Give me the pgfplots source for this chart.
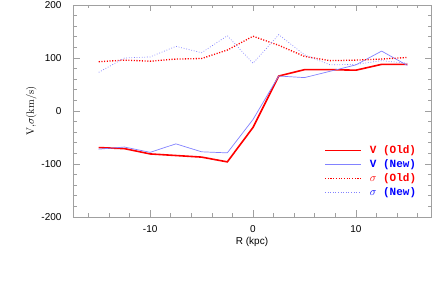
\documentclass[border=0pt]{standalone}
\usepackage{pgfplots}
\pgfplotsset{compat=1.18}
\usepackage{fontspec}
\setsansfont{Liberation Sans}
\newfontfamily\legfont{Liberation Mono}
\definecolor{vnew}{RGB}{130,130,255}
\definecolor{axgray}{RGB}{160,160,160}
\begin{document}
\begin{tikzpicture}
\begin{axis}[
  scale only axis,
  width=358pt, height=212pt,
  xmin=-17.5, xmax=17.3,
  ymin=-200, ymax=200,
  axis line style={axgray, line width=0.9pt},
  every tick/.style={axgray, line width=0.6pt},
  tick align=inside,
  major tick length=6.5pt,
  minor tick length=3.5pt,
  xtick={-10,0,10},
  xticklabels={-10,0,10},
  minor xtick={-16,-14,-12,-8,-6,-4,-2,2,4,6,8,12,14,16},
  ytick={-200,-100,0,100,200},
  yticklabels={-200,-100,0,100,200},
  minor ytick={-180,-160,-140,-120,-80,-60,-40,-20,20,40,60,80,120,140,160,180},
  tick label style={font=\sffamily\fontsize{10}{12}\selectfont},
  yticklabel style={xshift=-8pt},
  xticklabel style={yshift=-5pt},
  xlabel={\sffamily\fontsize{10}{12}\selectfont R (kpc)},
  xlabel style={yshift=2pt},
  ylabel={\fontsize{10.5}{12}\selectfont V,$\sigma$(km/s)},
  ylabel style={yshift=-2pt},
  legend style={draw=none, fill=none, at={(0.693,0.355)}, anchor=north west,
    font=\legfont\bfseries\fontsize{11}{15}\selectfont, row sep=0.4pt,
    /tikz/every odd column/.append style={column sep=6pt}},
  legend cell align=left,
  legend image code/.code={\draw[#1] (0pt,0pt) -- (36pt,0pt);},
]
\addplot[red, line width=1.6pt] coordinates {
(-15,-69) (-12.5,-71) (-10,-81) (-7.5,-84) (-5,-87) (-2.5,-96) (0,-31)
(2.5,66) (5,78) (7.5,78) (10,77) (12.5,88) (15,88)};
\addlegendentry{\textcolor{red}{V (Old)}}
\addplot[vnew, line width=0.7pt] coordinates {
(-15,-72) (-12.5,-68) (-10,-78) (-7.5,-62) (-5,-77) (-2.5,-79) (0,-16)
(2.5,66) (5,63) (7.5,75) (10,87) (12.5,113) (15,86)};
\addlegendentry{\textcolor{blue}{V (New)}}
\addplot[red, line width=1.3pt, dash pattern=on 1.1pt off 1.6pt] coordinates {
(-15,93) (-12.5,96) (-10,94) (-7.5,98) (-5,99) (-2.5,115) (0,141)
(2.5,124) (5,103) (7.5,95) (10,96) (12.5,98) (15,101)};
\addlegendentry{\textcolor{red}{$\sigma$ (Old)}}
\addplot[vnew, line width=0.7pt, dash pattern=on 0.8pt off 1.8pt] coordinates {
(-15,73) (-12.5,100) (-10,102) (-7.5,122) (-5,110) (-2.5,142) (0,90)
(2.5,144) (5,106) (7.5,87) (10,88) (12.5,95) (15,90)};
\addlegendentry{\textcolor{blue}{$\sigma$ (New)}}
\coordinate (sw) at (rel axis cs:0,0);
\coordinate (ne) at (rel axis cs:1,1);
\end{axis}
\pgfresetboundingbox
\path (sw) -- ++(-73pt,-74pt);
\path (ne) -- ++(5pt,5pt);
\end{tikzpicture}
\end{document}
